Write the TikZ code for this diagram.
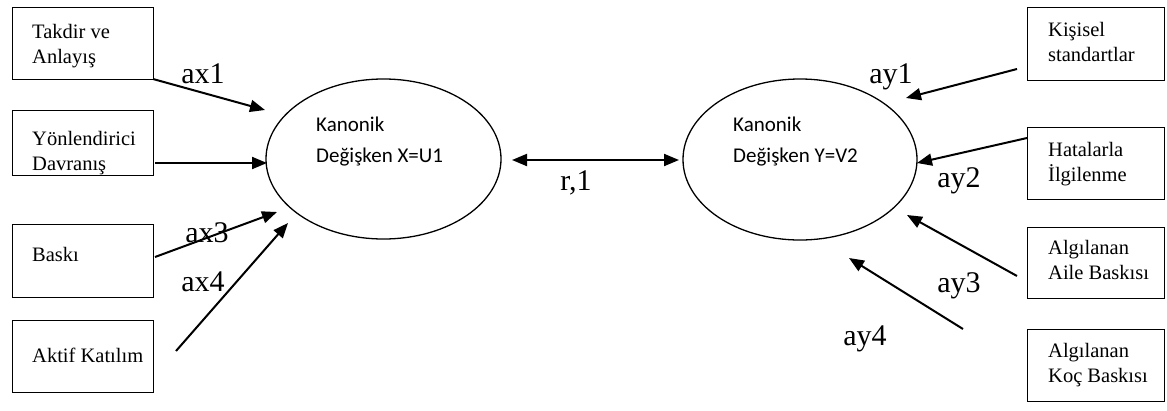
\documentclass[tikz,border=0pt]{standalone}
\usepackage{fontspec}
\setmainfont{Liberation Serif}
\newfontfamily\carl{Carlito}
\usetikzlibrary{arrows.meta,shapes.geometric}
\begin{document}
\begin{tikzpicture}[x=1pt,y=-1pt,
  box/.style={draw,line width=1.3pt,rectangle,inner sep=0pt,anchor=north west},
  btext/.style={anchor=north west,inner sep=0pt,align=left,font=\fontsize{20.5}{25}\selectfont},
  ell/.style={draw,line width=1.3pt,ellipse,inner sep=0pt,minimum width=235pt,minimum height=160pt},
  etext/.style={anchor=north west,inner sep=0pt,align=left,font=\carl\fontsize{21}{31}\selectfont},
  lab/.style={anchor=base,inner sep=0pt,font=\fontsize{30}{32}\selectfont},
  arr/.style={line width=2pt,-{Triangle[length=15pt,width=12pt]}},
  darr/.style={line width=2pt,{Triangle[length=15pt,width=12pt]}-{Triangle[length=15pt,width=12pt]}}]
\useasboundingbox (0,0) rectangle (1167,410);
% left boxes
\node[box,minimum width=141pt,minimum height=72pt] (l1) at (12,7) {};
\node[box,minimum width=141pt,minimum height=65pt] (l2) at (12,110) {};
\node[box,minimum width=141pt,minimum height=73pt] (l3) at (12,224) {};
\node[box,minimum width=141pt,minimum height=72pt] (l4) at (12,320) {};
\node[btext] (t1) at (32,24.5) {Takdir ve\\Anlayış};
\node[btext] (t2) at (32,131.5) {Yönlendirici\\Davranış};
\node[btext] (t3) at (32,247.5) {Baskı};
\node[btext] (t4) at (32,347.5) {Aktif Katılım};
% right boxes
\node[box,minimum width=137pt,minimum height=73pt] (r1) at (1027,7) {};
\node[box,minimum width=137pt,minimum height=72pt] (r2) at (1027,127) {};
\node[box,minimum width=137pt,minimum height=71pt] (r3) at (1027,227) {};
\node[box,minimum width=137pt,minimum height=72pt] (r4) at (1027,329) {};
\node[btext] (s1) at (1048,22.5) {Kişisel\\standartlar};
\node[btext] (s2) at (1048,142.5) {Hatalarla\\İlgilenme};
\node[btext] (s3) at (1048,240.5) {Algılanan\\Aile Baskısı};
\node[btext] (s4) at (1048,343.5) {Algılanan\\Koç Baskısı};
% ellipses
\node[ell] (u) at (383.5,159) {};
\node[ell,minimum width=234pt,minimum height=161pt] (v) at (800,159.5) {};
\node[etext] (ut) at (316,116.5) {Kanonik\\Değişken X=U1};
\node[etext] (vt) at (733,116.5) {Kanonik\\Değişken Y=V2};
% arrow coordinates
\coordinate (a1s) at (153,79);   \coordinate (a1e) at (265,110);
\coordinate (a2s) at (155,163);  \coordinate (a2e) at (267,163);
\coordinate (a3s) at (155,257);  \coordinate (a3e) at (277,212);
\coordinate (a4s) at (176,351);  \coordinate (a4e) at (288,223);
\coordinate (b1s) at (1017,69);  \coordinate (b1e) at (906,98);
\coordinate (b2s) at (1027,138); \coordinate (b2e) at (917,163);
\coordinate (b3s) at (1017,276); \coordinate (b3e) at (907,215);
\coordinate (b4s) at (963,329);  \coordinate (b4e) at (849,258);
\coordinate (cl) at (512,160);   \coordinate (cr) at (679,160);
\draw[arr] (a1s) -- (a1e);
\draw[arr] (a2s) -- (a2e);
\draw[arr] (a3s) -- (a3e);
\draw[arr] (a4s) -- (a4e);
\draw[arr] (b1s) -- (b1e);
\draw[arr] (b2s) -- (b2e);
\draw[arr] (b3s) -- (b3e);
\draw[arr] (b4s) -- (b4e);
\draw[darr] (cl) -- (cr);
% labels
\node[lab] (x1) at (203,83) {ax1};
\node[lab] (x3) at (207,242) {ax3};
\node[lab] (x4) at (203,291) {ax4};
\node[lab] (y1) at (891,83) {ay1};
\node[lab] (y2) at (959,187) {ay2};
\node[lab] (y3) at (959,292) {ay3};
\node[lab] (y4) at (865,345) {ay4};
\node[lab] (rr) at (576,190) {r,1};
\end{tikzpicture}
\end{document}
